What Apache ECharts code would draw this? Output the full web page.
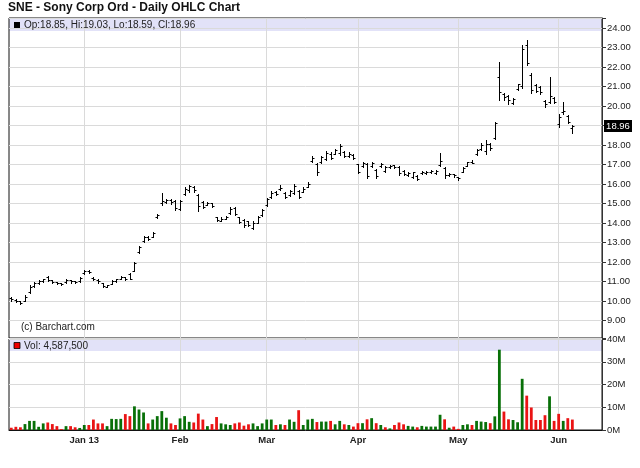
<!DOCTYPE html>
<html>
<head>
<meta charset="utf-8">
<script src="https://cdn.jsdelivr.net/npm/echarts@6/dist/echarts.min.js"></script>
<style>html,body{margin:0;padding:0;background:#fff}#c{width:640px;height:468px}</style>
</head>
<body>
<div id="c"></div>
<script>
// ---- data (SNE daily, 2012-12-07 .. 2013-06-06) ----
const firstDay = '2012-12-07';
const holidays = ['2012-12-25','2013-01-01','2013-01-21','2013-02-18','2013-03-29','2013-05-27'];
const padSlots = 6;
const monthLabels = {'2013-01':'Jan 13','2013-02':'Feb','2013-03':'Mar','2013-04':'Apr','2013-05':'May','2013-06':'Jun'};

const opens = [10.15,10.06,9.98,10.00,10.45,10.75,10.92,11.00,11.22,11.05,
10.95,10.90,10.95,11.05,11.00,11.00,11.45,11.55,11.20,11.05,
10.90,10.72,10.88,11.00,11.15,11.22,11.38,11.55,12.50,13.05,
13.30,13.30,14.30,15.00,15.05,15.20,15.10,14.70,15.50,15.70,
15.85,15.45,15.05,14.92,15.00,14.30,14.12,14.22,14.50,14.75,
14.30,14.15,14.10,13.75,14.02,14.40,14.90,15.35,15.58,15.75,
15.55,15.42,15.55,15.65,15.60,15.85,17.20,17.00,17.10,17.30,
17.55,17.55,17.60,17.62,17.42,17.50,17.00,16.90,17.00,16.90,
16.70,16.90,16.65,16.85,16.95,16.88,16.68,16.45,16.35,16.42,
16.55,16.55,16.60,16.55,16.95,16.80,16.45,16.50,16.35,16.62,
16.92,17.15,17.55,17.80,17.70,18.05,18.35,21.50,20.60,20.50,
20.15,20.85,21.00,23.10,21.60,21.05,20.95,20.25,20.20,20.40,
19.05,19.70,19.50,18.85];
const highs = [10.18,10.10,10.00,10.30,10.82,10.95,11.05,11.15,11.30,11.08,
10.98,10.94,11.12,11.08,11.04,11.25,11.58,11.60,11.22,11.10,
10.92,10.84,11.05,11.15,11.30,11.25,11.44,12.00,12.82,13.35,
13.35,13.55,14.48,15.55,15.25,15.22,15.20,15.20,15.85,15.95,
15.90,15.50,15.10,15.08,15.02,14.32,14.28,14.38,14.80,14.80,
14.32,14.20,14.12,14.10,14.38,14.72,15.30,15.62,15.62,15.95,
15.60,15.70,16.00,15.70,15.82,16.08,17.42,17.05,17.45,17.70,
17.62,17.78,18.05,17.68,17.62,17.52,17.02,17.12,17.05,17.12,
16.75,17.05,16.92,16.98,16.98,16.90,16.72,16.62,16.62,16.45,
16.65,16.65,16.70,16.70,17.60,16.85,16.58,16.52,16.38,16.85,
17.15,17.22,17.80,18.10,18.25,18.10,19.20,22.25,20.65,20.55,
20.40,21.15,23.10,23.40,21.70,21.15,21.00,20.30,21.50,20.45,
19.60,20.20,19.55,19.03];
const lows = [10.02,9.95,9.86,9.98,10.42,10.72,10.88,10.98,11.00,10.92,
10.85,10.84,10.93,10.94,10.90,10.98,11.40,11.42,11.05,10.94,
10.70,10.70,10.85,10.98,11.12,11.08,11.10,11.52,12.45,13.00,
13.12,13.28,14.25,14.90,15.00,14.98,14.65,14.65,15.45,15.60,
15.60,14.60,14.78,14.90,14.80,14.10,14.10,14.20,14.45,14.40,
14.00,13.80,13.85,13.70,14.00,14.35,14.85,15.30,15.45,15.70,
15.30,15.40,15.50,15.30,15.58,15.82,17.15,16.45,17.08,17.25,
17.30,17.52,17.50,17.40,17.40,17.30,16.55,16.88,16.30,16.85,
16.30,16.88,16.60,16.82,16.82,16.45,16.48,16.42,16.30,16.20,
16.52,16.50,16.58,16.50,16.90,16.30,16.42,16.38,16.22,16.60,
16.90,17.05,17.50,17.75,17.55,17.75,18.30,20.30,20.30,20.10,
20.10,20.80,20.90,22.10,20.65,20.70,20.60,19.95,20.15,20.15,
18.90,19.60,19.10,18.59];
const closes = [10.08,10.00,9.90,10.22,10.70,10.90,11.00,11.10,11.05,10.98,
10.90,10.88,11.05,11.00,10.96,11.20,11.52,11.48,11.12,11.00,
10.75,10.80,11.00,11.10,11.25,11.15,11.12,11.95,12.75,13.30,
13.20,13.48,14.42,15.10,15.20,15.05,14.75,15.15,15.75,15.90,
15.70,14.85,14.82,15.02,14.85,14.15,14.22,14.32,14.72,14.45,
14.05,13.90,13.88,14.00,14.30,14.65,15.25,15.55,15.50,15.80,
15.35,15.65,15.90,15.35,15.75,16.02,17.35,16.60,17.40,17.60,
17.35,17.72,17.95,17.45,17.55,17.35,16.62,17.05,16.40,17.08,
16.40,17.00,16.85,16.92,16.88,16.55,16.52,16.58,16.60,16.25,
16.60,16.62,16.65,16.66,17.20,16.45,16.52,16.45,16.30,16.80,
17.10,17.08,17.75,18.00,18.05,17.85,19.15,20.70,20.45,20.30,
20.35,21.10,22.90,22.20,20.80,20.75,20.70,20.10,20.50,20.20,
19.45,19.75,19.20,18.96];
// volume in millions of shares
const volumes = [1.0,1.4,1.2,2.6,4.0,4.0,1.4,2.9,3.3,2.6,
1.7,0.4,1.7,1.7,1.2,0.9,2.2,2.2,4.6,2.9,
2.9,1.7,4.9,4.8,4.9,7.0,6.1,10.4,9.0,7.7,
2.9,4.6,6.1,8.3,5.4,2.9,2.2,5.1,6.1,3.6,
3.3,7.2,4.6,1.7,2.6,5.7,2.9,2.5,2.2,2.9,
3.3,1.9,2.5,2.9,1.7,2.9,4.6,4.6,2.2,2.5,
2.2,4.6,3.6,8.7,2.2,4.6,4.9,3.5,3.7,3.7,
4.0,2.5,4.0,2.5,2.2,1.5,3.0,3.0,4.7,5.2,
3.0,2.2,1.2,0.7,2.2,3.3,2.5,1.8,1.5,1.2,
1.8,1.5,1.5,1.5,6.7,4.7,1.0,1.5,0.5,2.2,
2.5,2.2,4.0,3.7,3.5,3.0,6.0,35.3,8.1,4.7,
4.4,3.4,22.5,15.1,9.9,4.4,4.4,6.5,14.8,4.0,
7.1,4.0,5.2,4.5875];

// ---- trading-day categories ----
function buildDates(start, count) {
  const out = [];
  const d = new Date(start + 'T00:00:00Z');
  while (out.length < count) {
    const s = d.toISOString().slice(0, 10);
    const wd = d.getUTCDay();
    if (wd !== 0 && wd !== 6 && holidays.indexOf(s) < 0) out.push(s);
    d.setUTCDate(d.getUTCDate() + 1);
  }
  return out;
}
const n = closes.length;
const dates = buildDates(firstDay, n);
const cats = dates.concat(Array.from({length: padSlots}, (_, k) => 'pad' + k));
function isMonthStart(i) {
  return i > 0 && i < n && dates[i].slice(0, 7) !== dates[i - 1].slice(0, 7);
}
const monthInterval = (i) => isMonthStart(i);

const FONT = 'Liberation Sans';
const GREEN = '#087008', RED = '#ea1414';
const gridColor = '#dadada';

const ohlcData = closes.map((c, i) => [i, opens[i], highs[i], lows[i], c]);
const volData = volumes.map((v, i) => {
  const up = i === 0 ? closes[0] >= opens[0] : closes[i] >= closes[i - 1];
  return { value: v, itemStyle: { color: up ? GREEN : RED } };
});

function renderOHLC(params, api) {
  const i = api.value(0);
  const px = Math.round(api.coord([i, api.value(4)])[0]) + 0.5;
  const yO = Math.round(api.coord([i, api.value(1)])[1]) + 0.5;
  let yH = Math.round(api.coord([i, api.value(2)])[1]);
  let yL = Math.round(api.coord([i, api.value(3)])[1]) + 1;
  const yC = Math.round(api.coord([i, api.value(4)])[1]) + 0.5;
  if (yL - yH < 2) yL = yH + 2;
  const st = { stroke: '#000', lineWidth: 1 };
  const children = [
    { type: 'line', shape: { x1: px, y1: yH, x2: px, y2: yL }, style: st },
    { type: 'line', shape: { x1: px - 2, y1: yO, x2: px, y2: yO }, style: st },
    { type: 'line', shape: { x1: px, y1: yC, x2: px + 2, y2: yC }, style: st }
  ];
  if (params.dataIndex === n - 1) {
    const cs = params.coordSys;
    const rx = cs.x + cs.width + 2;
    children.push({ type: 'rect', shape: { x: rx, y: yC - 6.5, width: 28, height: 12 }, style: { fill: '#000' }, z2: 10 });
    children.push({ type: 'text', style: { text: api.value(4).toFixed(2), x: rx + 14, y: yC, fill: '#fff', font: '9.5px ' + FONT, align: 'center', verticalAlign: 'middle' }, z2: 11 });
  }
  return { type: 'group', children };
}

const last = n - 1;
const headerText = 'Op:' + opens[last].toFixed(2) + ', Hi:' + highs[last].toFixed(2) +
  ', Lo:' + lows[last].toFixed(2) + ', Cl:' + closes[last].toFixed(2);
const volText = 'Vol: ' + Math.round(volumes[last] * 1e6).toLocaleString('en-US');

const xCommon = {
  type: 'category', data: cats, boundaryGap: true,
  axisTick: { show: false },
  splitLine: { show: true, interval: monthInterval, alignWithLabel: true, lineStyle: { color: gridColor, width: 1 } }
};

const option = {
  animation: false,
  backgroundColor: '#fff',
  grid: [
    { left: 9, top: 18, width: 593, height: 320, show: true, backgroundColor: 'transparent', borderColor: '#111', borderWidth: 1 },
    { left: 9, top: 339, width: 593, height: 91, show: true, backgroundColor: 'transparent', borderColor: '#111', borderWidth: 1 }
  ],
  xAxis: [
    Object.assign({}, xCommon, { gridIndex: 0, axisLine: { show: false }, axisLabel: { show: false } }),
    Object.assign({}, xCommon, {
      gridIndex: 1,
      axisLine: { show: true, lineStyle: { color: '#111' } },
      axisLabel: {
        interval: monthInterval, margin: 5,
        formatter: (v) => monthLabels[v.slice(0, 7)] || '',
        fontFamily: FONT, fontSize: 9.5, fontWeight: 'bold', color: '#222'
      }
    })
  ],
  yAxis: [
    {
      type: 'value', gridIndex: 0, position: 'right', min: 8.1, max: 24.51,
      minInterval: 1, maxInterval: 1, scale: true,
      axisLine: { show: true, lineStyle: { color: '#333' } },
      axisTick: { show: true, length: 4, lineStyle: { color: '#333' } },
      axisLabel: {
        margin: 5, fontFamily: FONT, fontSize: 9.5, color: '#222',
        formatter: (v) => Math.abs(v - Math.round(v)) < 1e-6 ? v.toFixed(2) : ''
      },
      splitLine: { show: true, lineStyle: { color: gridColor } }
    },
    {
      type: 'value', gridIndex: 1, position: 'right', min: 0, max: 40, interval: 10,
      axisLine: { show: true, lineStyle: { color: '#333' } },
      axisTick: { show: true, length: 4, lineStyle: { color: '#333' } },
      axisLabel: { margin: 5, fontFamily: FONT, fontSize: 9.5, color: '#222', formatter: (v) => v + 'M' },
      splitLine: { show: true, lineStyle: { color: gridColor } }
    }
  ],
  series: [
    {
      type: 'custom', name: 'SNE', xAxisIndex: 0, yAxisIndex: 0,
      renderItem: renderOHLC, data: ohlcData, encode: { x: 0, y: [1, 2, 3, 4] }, clip: false, z: 5
    },
    {
      type: 'bar', name: 'Volume', xAxisIndex: 1, yAxisIndex: 1,
      data: volData, barWidth: 2.8
    }
  ],
  graphic: [
    { type: 'text', left: 8, top: 2, z: 10, style: { text: 'SNE - Sony Corp Ord - Daily OHLC Chart', font: 'bold 12px ' + FONT, fill: '#111' } },
    { type: 'rect', shape: { x: 9, y: 18, width: 593, height: 13 }, style: { fill: '#e2e2f8' }, z: -1 },
    { type: 'rect', shape: { x: 14, y: 22, width: 6, height: 6 }, style: { fill: '#000' }, z: 10 },
    { type: 'text', x: 24, y: 25, z: 10, style: { text: headerText, font: '10px ' + FONT, fill: '#222', verticalAlign: 'middle' } },
    { type: 'text', x: 21, y: 327, z: 10, style: { text: '(c) Barchart.com', font: '10px ' + FONT, fill: '#222', verticalAlign: 'middle' } },
    { type: 'rect', shape: { x: 9, y: 339, width: 593, height: 12 }, style: { fill: '#e2e2f8' }, z: -1 },
    { type: 'rect', shape: { x: 14, y: 342.5, width: 6, height: 6 }, style: { fill: '#e00', stroke: '#000', lineWidth: 0.8 }, z: 10 },
    { type: 'text', x: 24, y: 346, z: 10, style: { text: volText, font: '10px ' + FONT, fill: '#222', verticalAlign: 'middle' } }
  ]
};

const chart = echarts.init(document.getElementById('c'), null, { renderer: 'canvas' });
chart.setOption(option);
</script>
</body>
</html>
